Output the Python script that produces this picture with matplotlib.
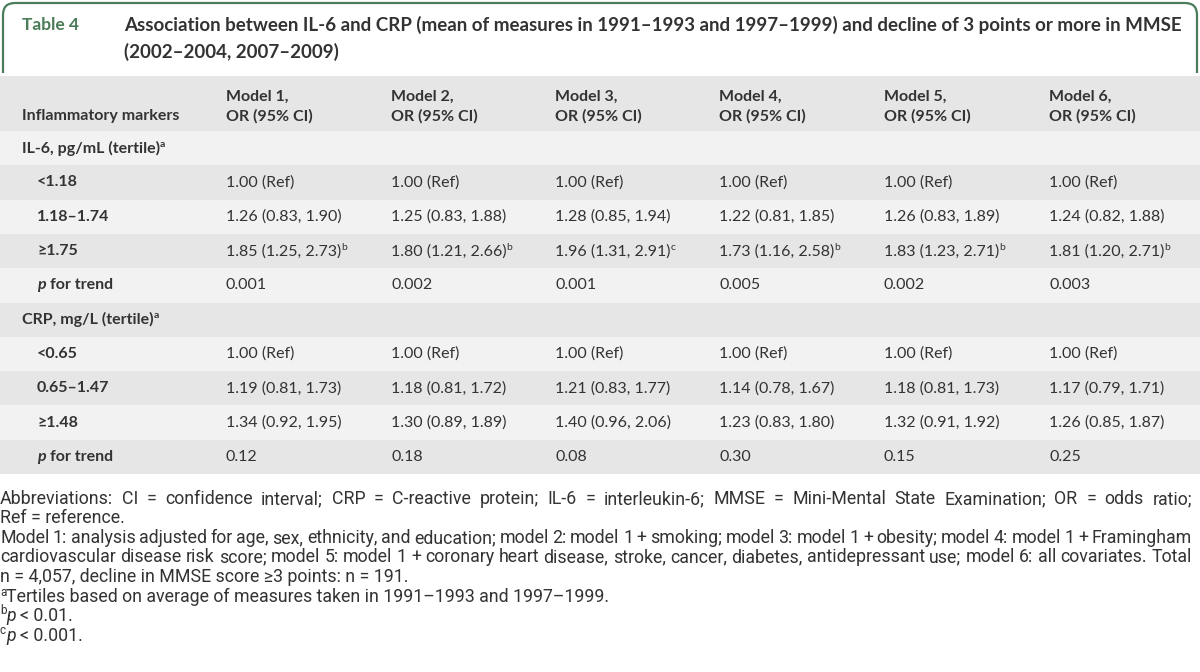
import numpy as np
import matplotlib
matplotlib.use("Agg")
import matplotlib.pyplot as plt
from matplotlib.path import Path
import matplotlib.patches as patches

# ---- table content ----
title_tag = "Table 4"
title_lines = [
    "Association between IL-6 and CRP (mean of measures in 1991\u20131993 and 1997\u20131999) and decline of 3 points or more in MMSE",
    "(2002\u20132004, 2007\u20132009)",
]
models = ["Model 1,", "Model 2,", "Model 3,", "Model 4,", "Model 5,", "Model 6,"]

il6_cats = ["<1.18", "1.18\u20131.74", "\u22651.75"]
il6_mid_or = [1.26, 1.25, 1.28, 1.22, 1.26, 1.24]
il6_mid_lo = [0.83, 0.83, 0.85, 0.81, 0.83, 0.82]
il6_mid_hi = [1.90, 1.88, 1.94, 1.85, 1.89, 1.88]
il6_top_or = [1.85, 1.80, 1.96, 1.73, 1.83, 1.81]
il6_top_lo = [1.25, 1.21, 1.31, 1.16, 1.23, 1.20]
il6_top_hi = [2.73, 2.66, 2.91, 2.58, 2.71, 2.71]
il6_top_mark = ["b", "b", "c", "b", "b", "b"]
il6_trend = ["0.001", "0.002", "0.001", "0.005", "0.002", "0.003"]

crp_cats = ["<0.65", "0.65\u20131.47", "\u22651.48"]
crp_mid_or = [1.19, 1.18, 1.21, 1.14, 1.18, 1.17]
crp_mid_lo = [0.81, 0.81, 0.83, 0.78, 0.81, 0.79]
crp_mid_hi = [1.73, 1.72, 1.77, 1.67, 1.73, 1.71]
crp_top_or = [1.34, 1.30, 1.40, 1.23, 1.32, 1.26]
crp_top_lo = [0.92, 0.89, 0.96, 0.83, 0.91, 0.85]
crp_top_hi = [1.95, 1.89, 2.06, 1.80, 1.92, 1.87]
crp_trend = ["0.12", "0.18", "0.08", "0.30", "0.15", "0.25"]

notes_justified = [
    "Abbreviations: CI = confidence interval; CRP = C-reactive protein; IL-6 = interleukin-6; MMSE = Mini-Mental State Examination; OR = odds ratio;",
    None,
    "Model 1: analysis adjusted for age, sex, ethnicity, and education; model 2: model 1 + smoking; model 3: model 1 + obesity; model 4: model 1 + Framingham",
    "cardiovascular disease risk score; model 5: model 1 + coronary heart disease, stroke, cancer, diabetes, antidepressant use; model 6: all covariates. Total",
]
notes_plain = {1: "Ref = reference.", 4: "n = 4,057, decline in MMSE score \u22653 points: n = 191."}

GREEN = "#4a7c59"
TXT = "#333333"
DARK = "#e6e6e6"
LIGHT = "#f2f2f2"
FONT = "Lato"
NOTEFONT = ["Roboto", "DejaVu Sans"]

fig = plt.figure(figsize=(12, 6.72), dpi=100)
ax = fig.add_axes([0, 0, 1, 1])
ax.set_xlim(0, 1200)
ax.set_ylim(672, 0)
ax.axis("off")
fig.canvas.draw()
renderer = fig.canvas.get_renderer()


def width(s, **kw):
    t = ax.text(0, 0, s, **kw)
    w = t.get_window_extent(renderer).width
    t.remove()
    return w


def runs(x, y, pieces, **common):
    # draw consecutive text pieces with different styles
    for s, kw in pieces:
        props = dict(common)
        props.update(kw)
        dy = props.pop("dy", 0)
        if s.startswith(" "):
            sp = width("x x", **props) - width("xx", **props)
            x += sp * (len(s) - len(s.lstrip(" ")))
            s = s.lstrip(" ")
        t = ax.text(x, y + dy, s, va="center", ha="left", **props)
        x += t.get_window_extent(renderer).width
    return x


# ---- header box ----
r = 12
verts = [(3, 73), (3, 3 + r), (3, 3), (3 + r, 3), (1197 - r, 3), (1197, 3), (1197, 3 + r), (1197, 73)]
codes = [Path.MOVETO, Path.LINETO, Path.CURVE3, Path.CURVE3, Path.LINETO, Path.CURVE3, Path.CURVE3, Path.LINETO]
ax.add_patch(patches.PathPatch(Path(verts, codes), fill=False, ec=GREEN, lw=1.6))
ax.text(22, 25, title_tag, color=GREEN, fontsize=12.5, fontweight="bold", family=FONT, va="center")
for i, line in enumerate(title_lines):
    ax.text(124, 25 + i * 27, line, color=TXT, fontsize=13.5, fontweight="bold", family=FONT, va="center")

# ---- table bands ----
row_h = 34.3
top = 76
head_h = 55
ax.add_patch(patches.Rectangle((0, top), 1200, head_h, color=DARK, lw=0))
n_rows = 10
for i in range(n_rows):
    y0 = top + head_h + i * row_h
    ax.add_patch(patches.Rectangle((0, y0), 1200, row_h, color=LIGHT if i % 2 == 0 else DARK, lw=0))

col_x = [226, 391, 555, 719, 884, 1049]
base = dict(color=TXT, family=FONT, fontsize=11.5)
bold = dict(base, fontweight="bold")

ax.text(22, 116, "Inflammatory markers", va="center", **bold)
for x, m in zip(col_x, models):
    ax.text(x, 97, m, va="center", **bold)
    ax.text(x, 116, "OR (95% CI)", va="center", **bold)


def fmt(o, lo, hi):
    return f"{o:.2f} ({lo:.2f}, {hi:.2f})"


sections = [
    ("IL-6, pg/mL (tertile)", il6_cats,
     [fmt(*v) for v in zip(il6_mid_or, il6_mid_lo, il6_mid_hi)],
     [fmt(*v) for v in zip(il6_top_or, il6_top_lo, il6_top_hi)], il6_top_mark, il6_trend),
    ("CRP, mg/L (tertile)", crp_cats,
     [fmt(*v) for v in zip(crp_mid_or, crp_mid_lo, crp_mid_hi)],
     [fmt(*v) for v in zip(crp_top_or, crp_top_lo, crp_top_hi)], [""] * 6, crp_trend),
]

sup = dict(fontsize=7.5, dy=-4)
row = 0
for name, cats, mid, topv, marks, trend in sections:
    yc = top + head_h + row * row_h + row_h / 2
    runs(22, yc, [(name, {}), ("a", sup)], **bold)
    row += 1
    cells = [["1.00 (Ref)"] * 6, mid, topv]
    for k, cat in enumerate(cats):
        yc = top + head_h + row * row_h + row_h / 2
        ax.text(37, yc, cat, va="center", **bold)
        for j, x in enumerate(col_x):
            if k == 2 and marks[j]:
                runs(x, yc, [(cells[k][j], {}), (marks[j], sup)], **base)
            else:
                ax.text(x, yc, cells[k][j], va="center", **base)
        row += 1
    yc = top + head_h + row * row_h + row_h / 2
    runs(37, yc, [("p", dict(style="italic")), (" for trend", {})], **bold)
    for j, x in enumerate(col_x):
        ax.text(x, yc, trend[j], va="center", **base)
    row += 1

# ---- footnotes ----
note = dict(color=TXT, family=NOTEFONT, fontsize=12.8)
note_y = [499, 518, 538, 557, 577, 597, 616, 636]
for i, line in enumerate(notes_justified):
    if line is None:
        continue
    words = line.split(" ")
    ws = [width(w, **note) for w in words]
    gap = (1192 - sum(ws)) / (len(words) - 1)
    x = 0
    for w, wd in zip(words, ws):
        ax.text(x, note_y[i], w, va="center", ha="left", **note)
        x += wd + gap
for i, line in notes_plain.items():
    ax.text(0, note_y[i], line, va="center", ha="left", **note)

nsup = dict(fontsize=8.5, dy=-5)
runs(0, note_y[5], [("a", nsup), ("Tertiles based on average of measures taken in 1991\u20131993 and 1997\u20131999.", {})], **note)
runs(0, note_y[6], [("b", nsup), ("p", dict(style="italic")), (" < 0.01.", {})], **note)
runs(0, note_y[7], [("c", nsup), ("p", dict(style="italic")), (" < 0.001.", {})], **note)

fig.savefig("out.png", dpi=100, facecolor="white")
